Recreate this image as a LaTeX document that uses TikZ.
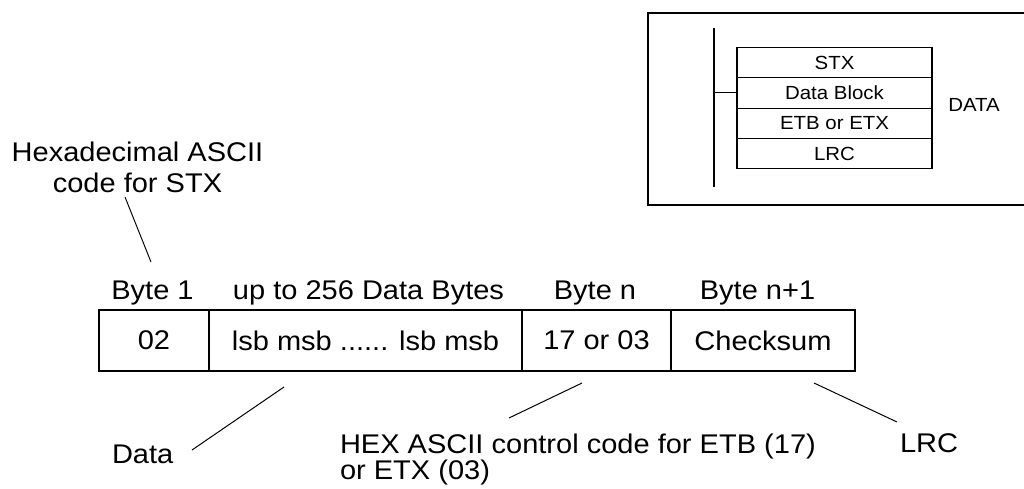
\documentclass[tikz,border=0pt]{standalone}
\usepackage{fontspec}
\setmainfont{Liberation Sans}[FakeStretch=1.075]
\begin{document}
\begin{tikzpicture}[x=1pt,y=-1pt,
  lbl/.style={inner sep=0pt, outer sep=0pt, font=\fontsize{27}{30}\selectfont},
  small/.style={inner sep=0pt, outer sep=0pt, font=\fontsize{19}{22}\selectfont},
  cell/.style={draw, line width=1.1pt, inner sep=0pt, outer sep=0pt, minimum height=61pt, anchor=north west, font=\fontsize{27}{30}\selectfont},
  rowbox/.style={draw, line width=1.1pt, inner sep=0pt, outer sep=0pt, minimum width=195pt, minimum height=30.3pt, font=\fontsize{19}{22}\selectfont},
  leader/.style={line width=1pt},
  frame/.style={line width=1.1pt}]
\useasboundingbox (0,0) rectangle (1024,489);

% ---- top-right inset ----
\draw[frame] (1030,13) -- (648,13) -- (648,205) -- (1030,205);
\node[rowbox, anchor=north west] (stx) at (737,47.5) {STX};
\node[rowbox, anchor=north] (blk) at (stx.south) {Data Block};
\node[rowbox, anchor=north] (etb) at (blk.south) {ETB or ETX};
\node[rowbox, anchor=north] (lrcr) at (etb.south) {LRC};
\node[small, anchor=base] (datat) at (974,112) {DATA};
\coordinate (busT) at (714,28);
\coordinate (busB) at (714,187);
\draw[frame] (busT) -- (busB);
\draw[frame] (busT |- blk.west) -- (blk.west);

% ---- top labels ----
\node[lbl, anchor=base] (hex1) at (137.5,162) {Hexadecimal ASCII};
\node[lbl, anchor=base] (hex2) at (137.5,192) {code for STX};
\node[lbl, anchor=base] (b1) at (152.5,299) {Byte 1};
\node[lbl, anchor=base] (bd) at (368.5,299) {up to 256 Data Bytes};
\node[lbl, anchor=base] (bn) at (595,299) {Byte n};
\node[lbl, anchor=base] (bn1) at (757.5,299) {Byte n+1};

% ---- frame cells ----
\node[cell, minimum width=110pt] (c1) at (99,310) {02};
\node[cell, minimum width=313pt] (c2) at (209,310) {lsb msb ...... lsb msb};
\node[cell, minimum width=149pt] (c3) at (522,310) {17 or 03};
\node[cell, minimum width=184pt] (c4) at (671,310) {Checksum};

% ---- bottom labels ----
\node[lbl, anchor=base west] (dl) at (112,463) {Data};
\node[lbl, anchor=base west] (hx1) at (340,453) {HEX ASCII control code for ETB (17)};
\node[lbl, anchor=base west] (hx2) at (340,479) {or ETX (03)};
\node[lbl, anchor=base west] (ll) at (900,452) {LRC};

% ---- leaders ----
\coordinate (s1) at (125,197); \coordinate (s2) at (151,262);
\coordinate (d1) at (192,450); \coordinate (d2) at (284,387);
\coordinate (h1) at (509,418); \coordinate (h2) at (582,383);
\coordinate (l1) at (814,383); \coordinate (l2) at (897,422);
\draw[leader] (s1) -- (s2);
\draw[leader] (d1) -- (d2);
\draw[leader] (h1) -- (h2);
\draw[leader] (l1) -- (l2);
\end{tikzpicture}
\end{document}
